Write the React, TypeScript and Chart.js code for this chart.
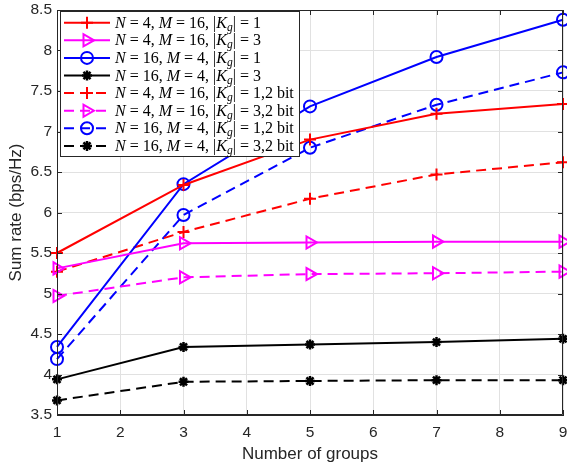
import React, { useEffect, useRef } from "react";
import { Chart, registerables } from "chart.js";
import { drawPoint } from "chart.js/helpers";

Chart.register(...registerables);

// Number of groups on the x axis and the sampled group counts
const xTicks = [1, 2, 3, 4, 5, 6, 7, 8, 9];
const yTicks = [3.5, 4, 4.5, 5, 5.5, 6, 6.5, 7, 7.5, 8, 8.5];
const groups = [1, 3, 5, 7, 9];

// Sum rate (bps/Hz), full-precision feedback
const rateN4M16K1 = [5.5, 6.34, 6.9, 7.22, 7.34];
const rateN4M16K3 = [5.31, 5.62, 5.63, 5.64, 5.64];
const rateN16M4K1 = [4.34, 6.35, 7.31, 7.92, 8.38];
const rateN16M4K3 = [3.94, 4.34, 4.37, 4.4, 4.44];

// Sum rate (bps/Hz), 2-bit quantized feedback
const rateN4M16K1Bit2 = [5.27, 5.76, 6.17, 6.47, 6.62];
const rateN4M16K3Bit2 = [4.97, 5.2, 5.24, 5.25, 5.27];
const rateN16M4K1Bit2 = [4.19, 5.97, 6.8, 7.33, 7.73];
const rateN16M4K3Bit2 = [3.68, 3.91, 3.92, 3.93, 3.93];

// Legend parameters per series
const legendN = [4, 4, 16, 16, 4, 4, 16, 16];
const legendM = [16, 16, 4, 4, 16, 16, 4, 4];
const legendK = [1, 3, 1, 3, 1, 3, 1, 3];
const legendBits = ["", "", "", "", "2", "2", "2", "2"];

const AXIS_COLOR = "#262626";
const GRID_COLOR = "#e1e1e1";
const DASH = [10, 6];

type Seg = { t: string; it?: boolean; sub?: boolean };

function legendSegments(i: number): Seg[] {
  const segs: Seg[] = [
    { t: "N", it: true },
    { t: ` = ${legendN[i]}, ` },
    { t: "M", it: true },
    { t: ` = ${legendM[i]}, |` },
    { t: "K", it: true },
    { t: "g", it: true, sub: true },
    { t: `| = ${legendK[i]}` },
  ];
  if (legendBits[i]) segs.push({ t: `,${legendBits[i]} bit` });
  return segs;
}

const series = [
  { data: rateN4M16K1, color: "#ff0000", dash: [] as number[], style: "cross", radius: 6, rotation: 0, width: 2 },
  { data: rateN4M16K3, color: "#ff00ff", dash: [] as number[], style: "triangle", radius: 7, rotation: 90, width: 2 },
  { data: rateN16M4K1, color: "#0000ff", dash: [] as number[], style: "circle", radius: 6, rotation: 0, width: 2 },
  { data: rateN16M4K3, color: "#000000", dash: [] as number[], style: "star", radius: 5, rotation: 0, width: 2.5 },
  { data: rateN4M16K1Bit2, color: "#ff0000", dash: DASH, style: "cross", radius: 6, rotation: 0, width: 2 },
  { data: rateN4M16K3Bit2, color: "#ff00ff", dash: DASH, style: "triangle", radius: 7, rotation: 90, width: 2 },
  { data: rateN16M4K1Bit2, color: "#0000ff", dash: DASH, style: "circle", radius: 6, rotation: 0, width: 2 },
  { data: rateN16M4K3Bit2, color: "#000000", dash: DASH, style: "star", radius: 5, rotation: 0, width: 2.5 },
];

// Box around the axes with inward-pointing tick marks on all four sides
const boxPlugin = {
  id: "matlabBox",
  afterDatasetsDraw(chart: any) {
    const { ctx, chartArea } = chart;
    const { left, right, top, bottom } = chartArea;
    const xs = chart.scales.x;
    const ys = chart.scales.y;
    const tl = 5;
    ctx.save();
    ctx.strokeStyle = AXIS_COLOR;
    ctx.lineWidth = 1;
    ctx.setLineDash([]);
    ctx.beginPath();
    ctx.rect(left + 0.5, top + 0.5, right - left - 1, bottom - top - 1);
    for (const v of xTicks) {
      const px = Math.round(xs.getPixelForValue(v)) + 0.5;
      ctx.moveTo(px, bottom);
      ctx.lineTo(px, bottom - tl);
      ctx.moveTo(px, top);
      ctx.lineTo(px, top + tl);
    }
    for (const v of yTicks) {
      const py = Math.round(ys.getPixelForValue(v)) + 0.5;
      ctx.moveTo(left, py);
      ctx.lineTo(left + tl, py);
      ctx.moveTo(right, py);
      ctx.lineTo(right - tl, py);
    }
    ctx.stroke();
    ctx.restore();
  },
};

const FONT_SIZE = 16;
const SERIF = "'Liberation Serif', 'DejaVu Serif', serif";

const legendPlugin = {
  id: "texLegend",
  afterDraw(chart: any) {
    const { ctx } = chart;
    const boxL = 60;
    const boxT = 11;
    const boxR = 300;
    const boxB = 157;
    const rowH = 17.6;
    const firstRow = 22.7;
    ctx.save();
    ctx.fillStyle = "#ffffff";
    ctx.fillRect(boxL, boxT, boxR - boxL, boxB - boxT);
    ctx.strokeStyle = AXIS_COLOR;
    ctx.lineWidth = 1;
    ctx.setLineDash([]);
    ctx.strokeRect(boxL + 0.5, boxT + 0.5, boxR - boxL - 1, boxB - boxT - 1);

    series.forEach((s, i) => {
      const y = firstRow + i * rowH;
      // line sample
      ctx.save();
      ctx.strokeStyle = s.color;
      ctx.lineWidth = 2;
      ctx.setLineDash(s.dash);
      ctx.beginPath();
      ctx.moveTo(64, y);
      ctx.lineTo(110, y);
      ctx.stroke();
      ctx.setLineDash([]);
      ctx.fillStyle = s.style === "star" ? s.color : "rgba(0,0,0,0)";
      ctx.strokeStyle = s.color;
      ctx.lineWidth = s.width;
      drawPoint(ctx, { pointStyle: s.style as any, rotation: s.rotation, radius: s.radius, borderWidth: s.width } as any, 87, y);
      ctx.restore();

      // label text
      let x = 115;
      const base = y + 5;
      ctx.fillStyle = "#000000";
      ctx.textBaseline = "alphabetic";
      ctx.textAlign = "left";
      for (const seg of legendSegments(i)) {
        const size = seg.sub ? FONT_SIZE * 0.72 : FONT_SIZE;
        ctx.font = `${seg.it ? "italic " : ""}${size}px ${SERIF}`;
        ctx.fillText(seg.t, x, seg.sub ? base + 3 : base);
        x += ctx.measureText(seg.t).width;
      }
    });
    ctx.restore();
  },
};

// Drop the label-overflow padding so the plot box keeps a fixed position
function clearScalePadding(s: any) {
  s.paddingTop = 0;
  s.paddingBottom = 0;
  s.paddingLeft = 0;
  s.paddingRight = 0;
}

export default function App() {
  const canvasRef = useRef<HTMLCanvasElement | null>(null);

  useEffect(() => {
    document.body.style.margin = "0";
    const canvas = canvasRef.current;
    if (!canvas) return;

    const tickFont = { family: "'Liberation Sans', Arial, sans-serif", size: 15.5 };
    const titleFont = { family: "'Liberation Sans', Arial, sans-serif", size: 17 };

    const chart = new Chart(canvas, {
      type: "line",
      data: {
        datasets: series.map((s) => ({
          data: groups.map((g, j) => ({ x: g, y: s.data[j] })),
          borderColor: s.color,
          borderWidth: 2,
          borderDash: s.dash,
          pointStyle: s.style as any,
          pointRotation: s.rotation,
          pointRadius: s.radius,
          pointBorderWidth: s.width,
          pointBorderColor: s.color,
          pointBackgroundColor: s.style === "star" ? s.color : "rgba(0,0,0,0)",
          fill: false,
          tension: 0,
          clip: false as any,
        })),
      },
      options: {
        animation: false,
        responsive: false,
        maintainAspectRatio: false,
        layout: { autoPadding: false, padding: { top: 10, right: 4, left: 0, bottom: 0 } },
        plugins: { legend: { display: false }, tooltip: { enabled: false } },
        scales: {
          x: {
            type: "linear",
            min: 1,
            max: 9,
            afterBuildTicks: (s: any) => {
              s.ticks = xTicks.map((v) => ({ value: v }));
            },
            afterFit: (s: any) => {
              s.height = 55;
              clearScalePadding(s);
            },
            grid: { color: GRID_COLOR, drawTicks: false },
            border: { color: AXIS_COLOR },
            ticks: { font: tickFont, color: AXIS_COLOR, padding: 8, maxRotation: 0, callback: (v: any) => String(v) },
            title: {
              display: true,
              text: "Number of groups",
              font: titleFont,
              color: AXIS_COLOR,
              padding: { top: 0, bottom: 5 },
            },
          },
          y: {
            type: "linear",
            min: 3.5,
            max: 8.5,
            afterBuildTicks: (s: any) => {
              s.ticks = yTicks.map((v) => ({ value: v }));
            },
            afterFit: (s: any) => {
              s.width = 57;
              clearScalePadding(s);
            },
            grid: { color: GRID_COLOR, drawTicks: false },
            border: { color: AXIS_COLOR },
            ticks: { font: tickFont, color: AXIS_COLOR, padding: 5, callback: (v: any) => String(v) },
            title: {
              display: true,
              text: "Sum rate (bps/Hz)",
              font: titleFont,
              color: AXIS_COLOR,
              padding: { top: 6, bottom: 0 },
            },
          },
        },
      },
      plugins: [boxPlugin, legendPlugin],
    });

    return () => chart.destroy();
  }, []);

  return (
    <div style={{ width: 567, height: 470 }}>
      <canvas ref={canvasRef} width={567} height={470} style={{ display: "block" }} />
    </div>
  );
}
